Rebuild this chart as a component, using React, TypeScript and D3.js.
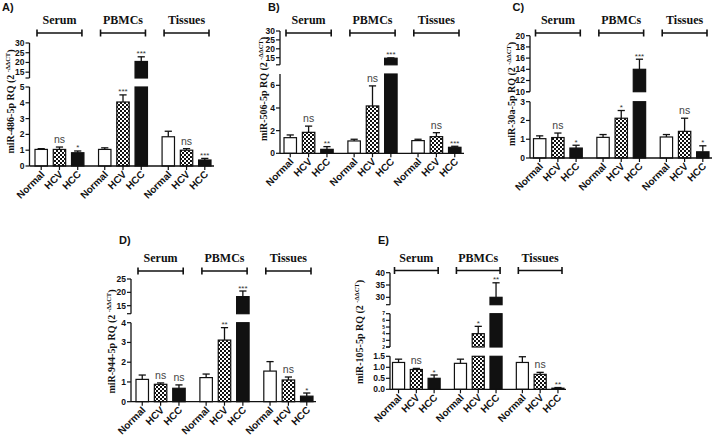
import React from 'react';
import * as d3 from 'd3';

const groups = ['Serum', 'PBMCs', 'Tissues'];
const conditions = ['Normal', 'HCV', 'HCC'];

// Panel A: miR-486-5p
const aMeans = [1.05, 1.05, 0.84, 1.05, 4.05, 20.5, 1.85, 1.0, 0.38];
const aErrors = [0.05, 0.15, 0.11, 0.1, 0.45, 2.4, 0.35, 0.1, 0.1];
const aSig = ['', 'ns', '*', '', '***', '***', '', 'ns', '***'];
const aSegDomains = [[0, 5], [12, 30]];
const aSegTicks = [[0, 1, 2, 3, 4, 5], [15, 20, 25, 30]];

// Panel B: miR-506-5p
const bMeans = [1.38, 1.85, 0.35, 1.09, 4.18, 14.7, 1.12, 1.47, 0.53];
const bErrors = [0.24, 0.55, 0.24, 0.15, 1.77, 0.2, 0.12, 0.35, 0.09];
const bSig = ['', 'ns', '**', '', 'ns', '***', '', 'ns', '***'];
const bSegDomains = [[0, 7], [11, 30]];
const bSegTicks = [[0, 2, 4, 6], [15, 20, 25, 30]];

// Panel C: miR-30a-5p
const cMeans = [1.03, 1.09, 0.53, 1.1, 2.12, 14.0, 1.12, 1.42, 0.33];
const cErrors = [0.15, 0.24, 0.15, 0.15, 0.41, 1.8, 0.13, 0.7, 0.32];
const cSig = ['', 'ns', '*', '', '*', '***', '', 'ns', '*'];
const cSegDomains = [[0, 3], [10, 20]];
const cSegTicks = [[0, 1, 2, 3], [10, 12, 14, 16, 18, 20]];

// Panel D: miR-944-5p
const dMeans = [1.13, 0.88, 0.68, 1.22, 3.12, 18.4, 1.55, 1.1, 0.28];
const dErrors = [0.22, 0.07, 0.17, 0.18, 0.63, 2.1, 0.48, 0.15, 0.16];
const dSig = ['', 'ns', 'ns', '', '**', '***', '', 'ns', '*'];
const dSegDomains = [[0, 4], [12, 25]];
const dSegTicks = [[0, 1, 2, 3, 4], [15, 20, 25]];

// Panel E: miR-105-5p
const eMeans = [1.22, 0.9, 0.5, 1.18, 4.0, 30.0, 1.22, 0.68, 0.05];
const eErrors = [0.15, 0.05, 0.15, 0.19, 1.1, 5.9, 0.26, 0.09, 0.03];
const eSig = ['', 'ns', '*', '', '*', '**', '', 'ns', '**'];
const eSegDomains = [[0, 1.5], [2, 7], [27, 40]];
const eSegTicks = [[0, 0.5, 1.0, 1.5], [2, 3, 4, 5, 6, 7], [30, 35, 40]];

const SANS = '"Liberation Sans", Arial, sans-serif';
const SERIF = '"Liberation Serif", "Times New Roman", serif';

type Layout = {
  axisX: number; x0: number; x1: number; xEnd: number;
  yRanges: number[][]; titleX: number; titleY: number;
  letterX: number; letterY: number; groupLabelY: number; bracketY: number;
  tickFonts: number[]; tickFormat: (v: number) => string;
};

const intFmt = (v: number) => d3.format('d')(v);
const decFmt = (v: number) => d3.format('.1f')(v);

const panels = [
  {
    letter: 'A)', mir: 'miR-486-5p', means: aMeans, errors: aErrors, sig: aSig, segDomains: aSegDomains, segTicks: aSegTicks,
    layout: { axisX: 29.5, x0: 35, x1: 211, xEnd: 214, yRanges: [[166, 87], [78, 43]], titleX: 14, titleY: 101.5, letterX: 2, letterY: 11, groupLabelY: 24, bracketY: 33, tickFonts: [8.5, 8.5], tickFormat: intFmt } as Layout,
  },
  {
    letter: 'B)', mir: 'miR-506-5p', means: bMeans, errors: bErrors, sig: bSig, segDomains: bSegDomains, segTicks: bSegTicks,
    layout: { axisX: 280, x0: 284, x1: 461, xEnd: 464, yRanges: [[153.3, 74], [64.8, 31]], titleX: 266.5, titleY: 89, letterX: 268, letterY: 11, groupLabelY: 24, bracketY: 33, tickFonts: [8.5, 8.5], tickFormat: intFmt } as Layout,
  },
  {
    letter: 'C)', mir: 'miR-30a-5p', means: cMeans, errors: cErrors, sig: cSig, segDomains: cSegDomains, segTicks: cSegTicks,
    layout: { axisX: 530, x0: 533.5, x1: 709, xEnd: 712, yRanges: [[158, 101.7], [91.7, 35.7]], titleX: 515, titleY: 94, letterX: 512.5, letterY: 11, groupLabelY: 24, bracketY: 33, tickFonts: [8.5, 8.5], tickFormat: intFmt } as Layout,
  },
  {
    letter: 'D)', mir: 'miR-944-5p', means: dMeans, errors: dErrors, sig: dSig, segDomains: dSegDomains, segTicks: dSegTicks,
    layout: { axisX: 131, x0: 136, x1: 313, xEnd: 316, yRanges: [[401.7, 322.7], [313.7, 279]], titleX: 115, titleY: 341.5, letterX: 119, letterY: 244, groupLabelY: 262, bracketY: 271, tickFonts: [8.5, 8.5], tickFormat: intFmt } as Layout,
  },
  {
    letter: 'E)', mir: 'miR-105-5p', means: eMeans, errors: eErrors, sig: eSig, segDomains: eSegDomains, segTicks: eSegTicks,
    layout: { axisX: 390, x0: 392.5, x1: 564, xEnd: 566, yRanges: [[389.3, 356.3], [347, 313.7], [304.7, 272.7]], titleX: 362.5, titleY: 332, letterX: 378, letterY: 244, groupLabelY: 262, bracketY: 270.5, tickFonts: [8.5, 5, 8.5], tickFormat: intFmt } as Layout,
  },
];

function Panel({ p }: { p: typeof panels[number] }) {
  const L = p.layout;
  const gx = d3.scaleBand<string>().domain(groups).range([L.x0, L.x1]).paddingInner(0.23);
  const cx = d3.scaleBand<string>().domain(conditions).range([0, gx.bandwidth()]).paddingInner(0.32);
  const segs = p.segDomains.map((d, i) => d3.scaleLinear().domain(d).range(L.yRanges[i]));
  const y0 = segs[0](0);
  const bw = cx.bandwidth();
  const fills: Record<string, string> = { Normal: '#ffffff', HCV: 'url(#checker)', HCC: '#111111' };
  const lowFmt = p.segDomains[0][1] < 2 ? decFmt : L.tickFormat;

  const bars: React.ReactNode[] = [];
  const xLabels: React.ReactNode[] = [];
  groups.forEach((g, gi) => {
    conditions.forEach((c, ci) => {
      const k = gi * 3 + ci;
      const m = p.means[k];
      const e = p.errors[k];
      const bx = (gx(g) as number) + (cx(c) as number);
      const mid = bx + bw / 2;
      p.segDomains.forEach((d, si) => {
        if (si > 0 && m <= d[0]) return;
        const top = Math.min(m, d[1]);
        const yTop = segs[si](top);
        const yBot = segs[si](d[0]);
        bars.push(
          <rect key={`b${k}-${si}`} x={bx} y={yTop} width={bw} height={yBot - yTop}
            fill={fills[c]} stroke="#111" strokeWidth={1.2} />
        );
      });
      let si = 0;
      p.segDomains.forEach((d, i) => { if (m > d[0]) si = i; });
      const yM = segs[si](m);
      const yE = segs[si](m + e);
      bars.push(
        <g key={`e${k}`} stroke="#111" strokeWidth={1.3}>
          <line x1={mid} x2={mid} y1={yM} y2={yE} />
          <line x1={mid - 3.6} x2={mid + 3.6} y1={yE} y2={yE} />
        </g>
      );
      const s = p.sig[k];
      if (s) {
        const isNs = s === 'ns';
        bars.push(
          <text key={`s${k}`} x={mid} y={isNs ? yE - 4 : yE - 0.5} textAnchor="middle"
            fontFamily={SANS} fontSize={isNs ? 10.5 : 8} fill={isNs ? '#444' : '#333'}>{s}</text>
        );
      }
      xLabels.push(
        <g key={`xt${k}`}>
          <line x1={mid} x2={mid} y1={y0} y2={y0 + 4} stroke="#111" strokeWidth={1.2} />
          <text transform={`translate(${mid + 4},${y0 + 9}) rotate(-45)`} textAnchor="end"
            fontFamily={SANS} fontWeight="bold" fontSize={10} fill="#111">{c}</text>
        </g>
      );
    });
  });

  const axis: React.ReactNode[] = [];
  p.segDomains.forEach((d, si) => {
    const r = L.yRanges[si];
    axis.push(<line key={`ax${si}`} x1={L.axisX} x2={L.axisX} y1={r[0]} y2={r[1]} stroke="#111" strokeWidth={1.3} />);
    if (si > 0) {
      axis.push(<line key={`cap${si}`} x1={L.axisX - 4} x2={L.axisX} y1={r[0]} y2={r[0]} stroke="#111" strokeWidth={1.2} />);
    }
    p.segTicks[si].forEach((t) => {
      const yy = segs[si](t);
      axis.push(
        <g key={`t${si}-${t}`}>
          <line x1={L.axisX - 4} x2={L.axisX} y1={yy} y2={yy} stroke="#111" strokeWidth={1.2} />
          <text x={L.axisX - 5} y={yy} dy="0.35em" textAnchor="end" fontFamily={SANS} fontWeight="bold"
            fontSize={L.tickFonts[si]} fill="#111">{si === 0 ? lowFmt(t) : L.tickFormat(t)}</text>
        </g>
      );
    });
  });

  const brackets = groups.map((g) => {
    const a = (gx(g) as number) + 2;
    const b = (gx(g) as number) + gx.bandwidth() - 2;
    return (
      <g key={`br${g}`}>
        <text x={(a + b) / 2} y={L.groupLabelY} textAnchor="middle" fontFamily={SERIF} fontWeight="bold" fontSize={12} fill="#111">{g}</text>
        <g stroke="#111" strokeWidth={1.6}>
          <line x1={a} x2={b} y1={L.bracketY} y2={L.bracketY} />
          <line x1={a} x2={a} y1={L.bracketY - 3.5} y2={L.bracketY + 3.5} />
          <line x1={b} x2={b} y1={L.bracketY - 3.5} y2={L.bracketY + 3.5} />
        </g>
      </g>
    );
  });

  return (
    <g>
      <text x={L.letterX} y={L.letterY} fontFamily={SANS} fontWeight="bold" fontSize={11} fill="#111">{p.letter}</text>
      {brackets}
      {bars}
      <line x1={L.axisX} x2={L.xEnd} y1={y0} y2={y0} stroke="#111" strokeWidth={1.3} />
      {axis}
      {xLabels}
      <text transform={`translate(${L.titleX},${L.titleY}) rotate(-90)`} textAnchor="middle"
        fontFamily={SERIF} fontWeight="bold" fontSize={10} fill="#111">
        {p.mir} RQ (2 <tspan fontSize={6.5} dy={-4}>-ΔΔCT</tspan><tspan dy={4}>)</tspan>
      </text>
    </g>
  );
}

export default function App() {
  return (
    <svg width={714} height={439} viewBox="0 0 714 439"
      style={{ position: 'absolute', left: 0, top: 0, background: '#fff' }}>
      <defs>
        <pattern id="checker" width={4} height={4} patternUnits="userSpaceOnUse">
          <rect width={4} height={4} fill="#111" />
          <rect x={0} y={0} width={2} height={2} fill="#fff" />
          <rect x={2} y={2} width={2} height={2} fill="#fff" />
        </pattern>
      </defs>
      <rect width={714} height={439} fill="#fff" />
      {panels.map((p) => <Panel key={p.letter} p={p} />)}
    </svg>
  );
}
